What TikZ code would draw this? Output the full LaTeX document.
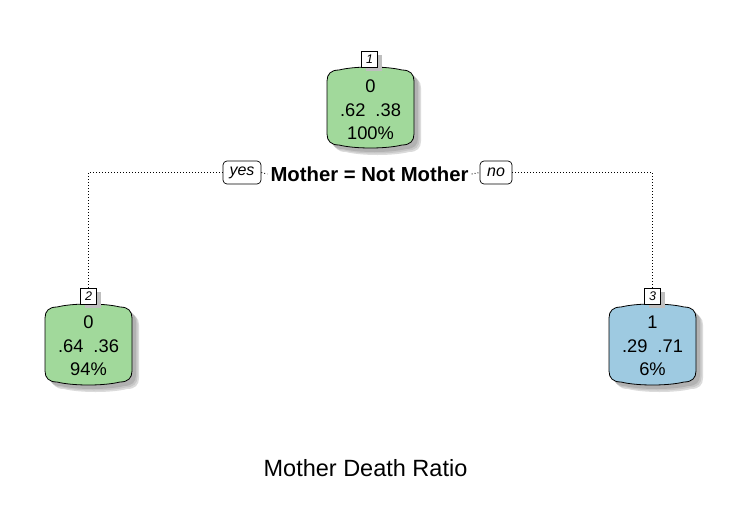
\documentclass[tikz,border=0pt]{standalone}
\usepackage{fontspec}
\setmainfont{Liberation Sans}
\definecolor{boxgreen}{HTML}{A1D99B}
\definecolor{boxblue}{HTML}{9ECAE1}
% barrel-shaped box: options, L, T, R, B
\newcommand\drawbarrel[5]{%
  \path[#1] ({#2},{#3+14}) .. controls ({#2},{#3+7}) and ({#2+4},{#3+3}) .. ({#2+12},{#3+3})
  .. controls ({#2+28},{#3-1}) and ({#4-28},{#3-1}) .. ({#4-12},{#3+3})
  .. controls ({#4-4},{#3+3}) and ({#4},{#3+7}) .. ({#4},{#3+14})
  -- ({#4},{#5-14}) .. controls ({#4},{#5-7}) and ({#4-4},{#5-3}) .. ({#4-12},{#5-3})
  .. controls ({#4-28},{#5+1}) and ({#2+28},{#5+1}) .. ({#2+12},{#5-3})
  .. controls ({#2+4},{#5-3}) and ({#2},{#5-7}) .. ({#2},{#5-14}) -- cycle;}
\newcommand\barrelwithshadow[5]{%
  \drawbarrel{fill=black!14,xshift=7pt,yshift=-7pt}{#2}{#3}{#4}{#5}%
  \drawbarrel{fill=black!22,xshift=5.5pt,yshift=-5.5pt}{#2}{#3}{#4}{#5}%
  \drawbarrel{fill=black!30,xshift=4pt,yshift=-4pt}{#2}{#3}{#4}{#5}%
  \drawbarrel{fill=#1,draw=black,line width=0.8pt}{#2}{#3}{#4}{#5}}
\tikzset{
  nodetext/.style={font={\fontsize{18.3}{23.5}\selectfont}, align=center, inner sep=0pt},
  nnbox/.style={draw=black, line width=0.6pt, fill=white, minimum width=16pt, minimum height=16pt,
    inner sep=0pt, font={\fontsize{12.5}{14}\selectfont\itshape}},
  nnshadow/.style={fill=black!25, minimum width=16pt, minimum height=16pt, inner sep=0pt},
  dotline/.style={line width=0.9pt, dash pattern=on 0.9pt off 2.1pt},
  yesno/.style={draw=black, line width=0.7pt, fill=white, rounded corners=4pt, inner sep=0pt,
    minimum height=23pt, font={\fontsize{16}{18}\selectfont\itshape}},
  splitlabel/.style={fill=white, inner xsep=3pt, inner ysep=1pt, font={\fontsize{20.3}{22}\selectfont\bfseries}},
  titlestyle/.style={font={\fontsize{23.5}{27}\selectfont}, inner sep=0pt}
}
\begin{document}
\begin{tikzpicture}[x=1pt,y=-1pt]
\fill[white] (0,0) rectangle (742,512);
\useasboundingbox (0,0) rectangle (742,512);

% boxes
\barrelwithshadow{boxgreen}{327}{67}{414}{148}
\barrelwithshadow{boxgreen}{45}{304}{132}{385}
\barrelwithshadow{boxblue}{609}{304}{696}{385}

% node numbers
\node[nnshadow] at (373.5,63) {};
\node[nnbox] (nn1) at (369.5,59) {1};
\node[nnshadow] at (92.5,300) {};
\node[nnbox] (nn2) at (88.5,296) {2};
\node[nnshadow] at (656.5,300) {};
\node[nnbox] (nn3) at (652.5,296) {3};

% node contents
\node[nodetext] (n1) at (370.5,110) {0\\.62\hspace{10pt}.38\\100\%};
\node[nodetext] (n2) at (88.5,346) {0\\.64\hspace{10pt}.36\\94\%};
\node[nodetext] (n3) at (652.5,346) {1\\.29\hspace{10pt}.71\\6\%};

% split labels
\node[yesno, minimum width=38pt] (yes) at (242,172.5) {yes};
\node[splitlabel] (split) at (369.5,174) {Mother = Not Mother};
\node[yesno, minimum width=32pt] (no) at (496,172.5) {no};

% connectors
\draw[dotline] (nn2.north) |- (yes.west);
\draw[dotline] (yes.east) -- (split.west);
\draw[dotline] (split.east) -- (no.west);
\draw[dotline] (no.east) -| (nn3.north);

% title
\node[titlestyle] (title) at (365.5,468) {Mother Death Ratio};
\end{tikzpicture}
\end{document}
